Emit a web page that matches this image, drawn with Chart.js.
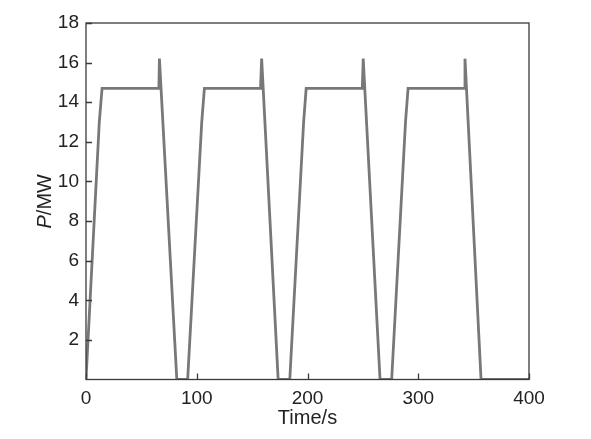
<!DOCTYPE html>
<html>
<head>
<meta charset="utf-8">
<script src="https://cdn.jsdelivr.net/npm/chart.js@4/dist/chart.umd.min.js"></script>
<style>
  html, body { margin: 0; padding: 0; background: #fff; }
  #wrap { width: 591px; height: 439px; }
</style>
</head>
<body>
<div id="wrap"><canvas id="powerChart" width="591" height="439"></canvas></div>
<script>
// time (s) and power (MW)
const timeS = [0, 12, 14.5, 65.8, 66.3, 82,
  91.8, 104.5, 106.9, 157.6, 158.6, 173.5,
  184, 196.5, 198.8, 249.5, 250.3, 265.5,
  276, 288.5, 290.8, 341.4, 342.2, 356.7, 400];
const powerMW = [0, 13, 14.7, 14.7, 16.2, 0,
  0, 13, 14.7, 14.7, 16.2, 0,
  0, 13, 14.7, 14.7, 16.2, 0,
  0, 13, 14.7, 14.7, 16.2, 0, 0];
const xTicks = [0, 100, 200, 300, 400];
const yTicks = [2, 4, 6, 8, 10, 12, 14, 16, 18];

const axisColor = '#3a3a3a';
const fontFamily = 'Liberation Sans, Arial, sans-serif';

// frame, inward tick marks and the y title with an italic P
const frameAndTicks = {
  id: 'frameAndTicks',
  afterDraw(chart) {
    const { ctx, chartArea: a, scales } = chart;
    ctx.save();
    ctx.strokeStyle = axisColor;
    ctx.lineWidth = 1.3;
    ctx.strokeRect(a.left, a.top, a.right - a.left, a.bottom - a.top);
    ctx.beginPath();
    xTicks.forEach(v => {
      const x = Math.round(scales.x.getPixelForValue(v)) + 0.5;
      ctx.moveTo(x, a.bottom);
      ctx.lineTo(x, a.bottom - 6);
    });
    yTicks.forEach(v => {
      const y = Math.round(scales.y.getPixelForValue(v)) + 0.5;
      ctx.moveTo(a.left, y);
      ctx.lineTo(a.left + 6, y);
    });
    ctx.stroke();

    // y title
    ctx.translate(45, (a.top + a.bottom) / 2);
    ctx.rotate(-Math.PI / 2);
    ctx.fillStyle = '#222';
    ctx.textBaseline = 'middle';
    ctx.font = 'italic 20px ' + fontFamily;
    const wP = ctx.measureText('P').width;
    ctx.font = '20px ' + fontFamily;
    const wRest = ctx.measureText('/MW').width;
    const start = -(wP + wRest) / 2;
    ctx.textAlign = 'left';
    ctx.font = 'italic 20px ' + fontFamily;
    ctx.fillText('P', start, 0);
    ctx.font = '20px ' + fontFamily;
    ctx.fillText('/MW', start + wP, 0);
    ctx.restore();
  }
};

const ctx = document.getElementById('powerChart').getContext('2d');
new Chart(ctx, {
  type: 'scatter',
  data: {
    datasets: [{
      data: timeS.map((t, i) => ({ x: t, y: powerMW[i] })),
      showLine: true,
      borderColor: '#787878',
      borderWidth: 2.8,
      pointRadius: 0,
      tension: 0
    }]
  },
  options: {
    responsive: false,
    animation: false,
    layout: { padding: { top: 23, right: 62, left: 0, bottom: 8.5 } },
    plugins: { legend: { display: false }, tooltip: { enabled: false } },
    scales: {
      x: {
        type: 'linear',
        min: 0,
        max: 400,
        afterBuildTicks: s => { s.ticks = xTicks.map(v => ({ value: v })); },
        afterFit: s => { s.height = 51; },
        grid: { display: false, drawTicks: false },
        border: { display: false },
        ticks: {
          color: '#222',
          padding: 8,
          maxRotation: 0,
          font: { family: fontFamily, size: 19 }
        },
        title: {
          display: true,
          text: 'Time/s',
          color: '#222',
          padding: { top: 0, bottom: 0 },
          font: { family: fontFamily, size: 20 }
        }
      },
      y: {
        min: 0,
        max: 18,
        afterBuildTicks: s => { s.ticks = yTicks.map(v => ({ value: v })); },
        afterFit: s => { s.width = 86; },
        grid: { display: false, drawTicks: false },
        border: { display: false },
        ticks: {
          color: '#222',
          padding: 7,
          font: { family: fontFamily, size: 19 }
        }
      }
    }
  },
  plugins: [frameAndTicks]
});
</script>
</body>
</html>
